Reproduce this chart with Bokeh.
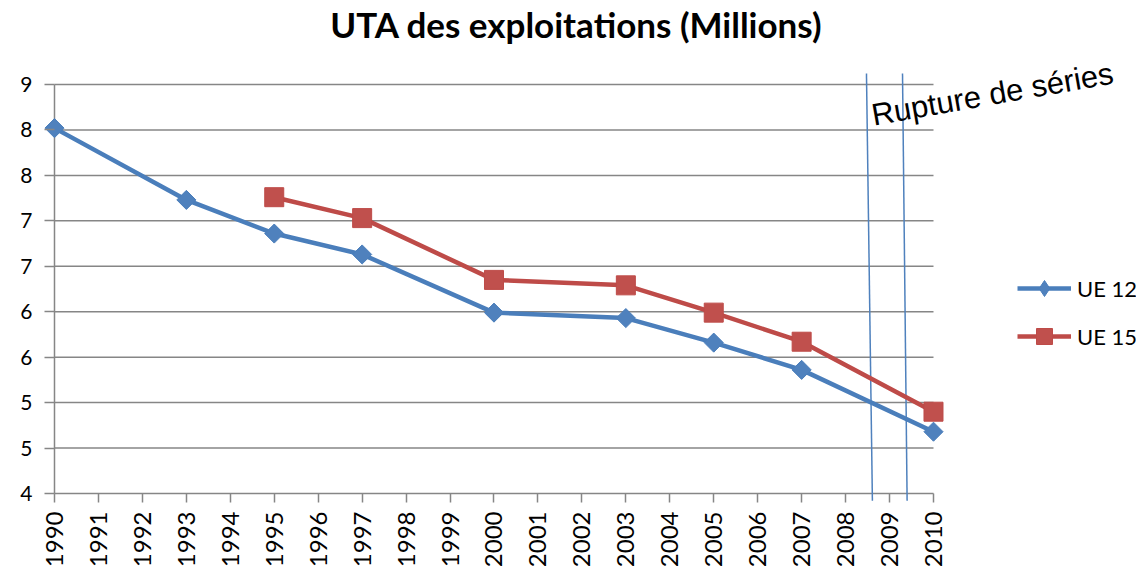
import math
from bokeh.plotting import figure
from bokeh.models import Range1d, FixedTicker, Legend, LegendItem, Label
from bokeh.embed import file_html
from bokeh.resources import INLINE

# ---- data ----
years_ue12 = [1990, 1993, 1995, 1997, 2000, 2003, 2005, 2007, 2010]
uta_ue12 = [8.02, 7.23, 6.86, 6.63, 5.99, 5.93, 5.66, 5.36, 4.68]
years_ue15 = [1995, 1997, 2000, 2003, 2005, 2007, 2010]
uta_ue15 = [7.26, 7.03, 6.35, 6.29, 5.99, 5.67, 4.90]

x_ticks = list(range(1990, 2011))
y_ticks = [4.0, 4.5, 5.0, 5.5, 6.0, 6.5, 7.0, 7.5, 8.0, 8.5]
y_labels = ["4", "5", "5", "6", "6", "7", "7", "8", "8", "9"]

# "Rupture de séries" break lines (top / bottom x, in years)
break_x_top = [2008.475, 2009.295]
break_x_bottom = [2008.61, 2009.40]
break_y_top = [8.62, 8.62]
break_y_bottom = [3.92, 3.92]

BLUE_LINE = "#4A7EBB"
BLUE = "#4F81BD"
RED_LINE = "#BE4B48"
RED = "#C0504D"
GRID = "#868686"
FONT = "Lato"

p = figure(
    frame_width=1092, frame_height=502,
    min_border_left=44, min_border_right=0, min_border_top=0, min_border_bottom=60,
    x_range=Range1d(1989.7725, 2014.619), y_range=Range1d(3.901, 9.424),
    output_backend="svg", toolbar_location=None,
)
p.outline_line_color = None
p.background_fill_color = "white"
p.border_fill_color = "white"
p.xgrid.visible = False
p.ygrid.visible = False

# title
p.add_layout(Label(x=2001.877, y=9.165, text="UTA des exploitations (Millions)",
                   text_font=FONT, text_font_style="bold", text_font_size="35px",
                   text_color="black", text_align="center", text_baseline="alphabetic"))

# grid lines and axis line drawn between first and last year
p.segment(x0=[x_ticks[0]] * len(y_ticks), x1=[x_ticks[-1]] * len(y_ticks),
          y0=y_ticks, y1=y_ticks, line_color=GRID, line_width=1.5)
p.segment(x0=[x_ticks[0]], x1=[x_ticks[0]], y0=[y_ticks[0]], y1=[y_ticks[-1]],
          line_color=GRID, line_width=1.5)

# x axis
xa = p.xaxis[0]
xa.ticker = FixedTicker(ticks=x_ticks)
xa.axis_line_alpha = 0
xa.major_tick_line_color = GRID
xa.major_tick_line_width = 1.5
xa.major_tick_out = 0
xa.major_tick_in = 9
xa.minor_tick_line_color = None
xa.major_label_orientation = math.pi / 2
xa.major_label_text_font = FONT
xa.major_label_text_font_size = "24px"
xa.major_label_text_color = "black"
xa.major_label_standoff = 9

# y axis
ya = p.yaxis[0]
ya.ticker = FixedTicker(ticks=y_ticks)
ya.major_label_overrides = {t: l for t, l in zip(y_ticks, y_labels)}
ya.axis_line_alpha = 0
ya.major_tick_line_color = GRID
ya.major_tick_line_width = 1.5
ya.major_tick_in = 10
ya.major_tick_out = 0
ya.minor_tick_line_color = None
ya.major_label_text_font = FONT
ya.major_label_text_font_size = "21px"
ya.major_label_text_color = "black"
ya.major_label_standoff = 12

# break lines
p.segment(x0=break_x_top, y0=break_y_top, x1=break_x_bottom, y1=break_y_bottom,
          line_color=BLUE, line_width=1.5)

# series
l12 = p.line(years_ue12, uta_ue12, line_color=BLUE_LINE, line_width=4.5)
s12 = p.scatter(years_ue12, uta_ue12, marker="square", angle=math.pi / 4, size=13.5,
                fill_color=BLUE, line_color=BLUE_LINE, line_width=1)
l15 = p.line(years_ue15, uta_ue15, line_color=RED_LINE, line_width=4.5)
s15 = p.scatter(years_ue15, uta_ue15, marker="square", size=19,
                fill_color=RED, line_color=RED_LINE, line_width=1)

# legend-only diamond swatch (legend glyphs ignore marker angle); NaN point draws nothing in the plot
d12 = p.scatter(x=[float("nan")], y=[float("nan")], marker="diamond", size=19,
                fill_color=BLUE, line_color=BLUE_LINE, line_width=1)

p.add_layout(Label(x=2008.60, y=8.16, text="Rupture de séries", angle=math.radians(10),
                   text_font="Liberation Sans", text_font_size="31px", text_color="black",
                   text_baseline="alphabetic", text_align="left"))

legend = Legend(items=[LegendItem(label="UE 12", renderers=[l12, d12]),
                       LegendItem(label="UE 15", renderers=[l15, s15])],
                location=(973, 146), orientation="vertical",
                glyph_width=54, glyph_height=40, label_height=20, label_standoff=6,
                spacing=8, padding=0, margin=0,
                border_line_alpha=0, background_fill_alpha=0,
                label_text_font=FONT, label_text_font_size="22px", label_text_color="black")
p.add_layout(legend)

open("out.html", "w").write(file_html(p, INLINE))
